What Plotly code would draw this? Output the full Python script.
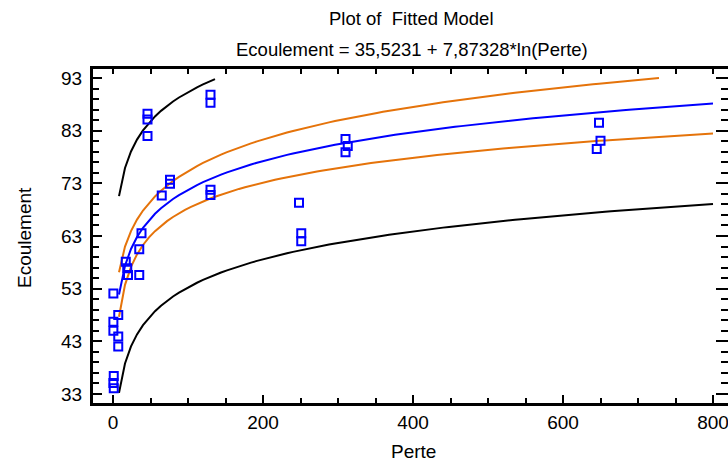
import numpy as np
import plotly.graph_objects as go

# Observed data
perte = [0.5, 0.5, 0.5, 0.5, 1, 1, 7, 7, 7,
         17, 19, 20, 35, 35, 38,
         46, 46, 46, 65, 76, 76,
         130, 130, 130, 130,
         248, 251, 251, 310, 313, 310,
         648, 650, 645]
ecoulement = [52.1, 46.7, 45.0, 35.1, 36.4, 34.1, 48.0, 43.9, 42.0,
              58.1, 56.9, 55.6, 55.6, 60.5, 63.5,
              86.2, 85.1, 82.0, 70.7, 73.7, 72.9,
              89.8, 88.3, 71.8, 70.8,
              69.3, 63.5, 62.0, 81.4, 80.1, 78.9,
              84.5, 81.1, 79.5]

# Fitted model: Ecoulement = b0 + b1*ln(Perte)
B0 = 35.5231
B1 = 7.87328

# Regression summary used for the 95% limits
N_OBS = 31
MEAN_LN_PERTE = 3.76
SXX_LN_PERTE = 130.0
RESID_SD = 8.92
T_CRIT = 2.04

x_ticks = [0, 200, 400, 600, 800]
y_ticks = [33, 43, 53, 63, 73, 83, 93]

# Evaluate curves over the axis span (ln undefined at 0)
xg = np.linspace(x_ticks[0], x_ticks[-1], 101)[1:]
lg = np.log(xg)
fit = B0 + B1 * lg
lev = 1.0 / N_OBS + (lg - MEAN_LN_PERTE) ** 2 / SXX_LN_PERTE
conf = T_CRIT * RESID_SD * np.sqrt(lev)
pred = T_CRIT * RESID_SD * np.sqrt(1.0 + lev)


def clip(v):
    lo, hi = y_ticks[0], y_ticks[-1]
    return [float(a) if lo <= a <= hi else None for a in v]


BLUE = "#0000ff"
ORANGE = "#e5730a"
BLACK = "#000000"
FONT = "Liberation Sans, Arial, sans-serif"

fig = go.Figure()
for yy, col in [(fit + pred, BLACK), (fit - pred, BLACK),
                (fit + conf, ORANGE), (fit - conf, ORANGE),
                (fit, BLUE)]:
    fig.add_trace(go.Scatter(x=xg, y=clip(yy), mode="lines",
                             line=dict(color=col, width=2),
                             connectgaps=False, showlegend=False,
                             hoverinfo="skip"))

fig.add_trace(go.Scatter(x=perte, y=ecoulement, mode="markers",
                         marker=dict(symbol="square-open", size=8,
                                     color=BLUE, line=dict(width=2, color=BLUE)),
                         showlegend=False))

# dummy trace so the mirrored top/right axes are drawn
fig.add_trace(go.Scatter(x=[None], y=[None], xaxis="x2", yaxis="y2",
                         showlegend=False))

L, R, T, B = 93, 0, 69, 61
W, H = 728, 464
xr = [-26.67, 820.0]
yr = [31.29, 94.71]
tickfont = dict(family=FONT, size=19, color="black")

fig.update_layout(
    width=W, height=H,
    margin=dict(l=L, r=R, t=T, b=B, pad=0),
    paper_bgcolor="white", plot_bgcolor="white",
    xaxis=dict(range=xr, tickvals=x_ticks, ticktext=[str(v) for v in x_ticks],
               ticks="inside", ticklen=8, tickwidth=2, tickcolor="black",
               showline=True, linewidth=3, linecolor="black",
               showgrid=False, zeroline=False, tickfont=tickfont,
               ticklabelstandoff=0, ticklabeloverflow="allow",
               minor=dict(dtick=50, tick0=0, ticks="inside", ticklen=5,
                          tickwidth=2, tickcolor="black", showgrid=False)),
    yaxis=dict(range=yr, tickvals=y_ticks, ticktext=[str(v) for v in y_ticks],
               ticks="inside", ticklen=9, tickwidth=2, tickcolor="black",
               showline=True, linewidth=3, linecolor="black",
               showgrid=False, zeroline=False, tickfont=tickfont,
               ticklabelstandoff=4,
               minor=dict(dtick=2, tick0=33, ticks="inside", ticklen=6,
                          tickwidth=2, tickcolor="black", showgrid=False)),
    xaxis2=dict(range=xr, overlaying="x", side="top", anchor="y",
                dtick=50, tick0=0, ticks="inside", ticklen=5, tickwidth=2,
                tickcolor="black", showticklabels=False,
                showline=True, linewidth=3, linecolor="black",
                showgrid=False, zeroline=False),
    yaxis2=dict(range=yr, overlaying="y", side="right", anchor="x",
                dtick=10, tick0=33, ticks="inside", ticklen=12, tickwidth=2,
                tickcolor="black", showticklabels=False, showline=False,
                showgrid=False, zeroline=False,
                minor=dict(dtick=2, tick0=33, ticks="inside", ticklen=7,
                           tickwidth=2, tickcolor="black", showgrid=False)),
)

pw, ph = W - L - R, H - T - B


def px(xp):
    return (xp - L) / pw


def py(yp):
    return (H - B - yp) / ph


ann = [
    dict(text="Plot of  Fitted Model", x=px(412), y=py(18), size=18.5),
    dict(text="Ecoulement = 35,5231 + 7,87328*ln(Perte)", x=px(412), y=py(50), size=18.5),
    dict(text="Perte", x=px(413), y=py(451), size=19),
]
for a in ann:
    fig.add_annotation(text=a["text"], x=a["x"], y=a["y"], xref="paper", yref="paper",
                       xanchor="center", yanchor="middle", showarrow=False,
                       font=dict(family=FONT, size=a["size"], color="black"))
fig.add_annotation(text="Ecoulement", x=px(25), y=py(238), xref="paper", yref="paper",
                   xanchor="center", yanchor="middle", showarrow=False, textangle=-90,
                   font=dict(family=FONT, size=19, color="black"))

fig.write_html("out.html")
